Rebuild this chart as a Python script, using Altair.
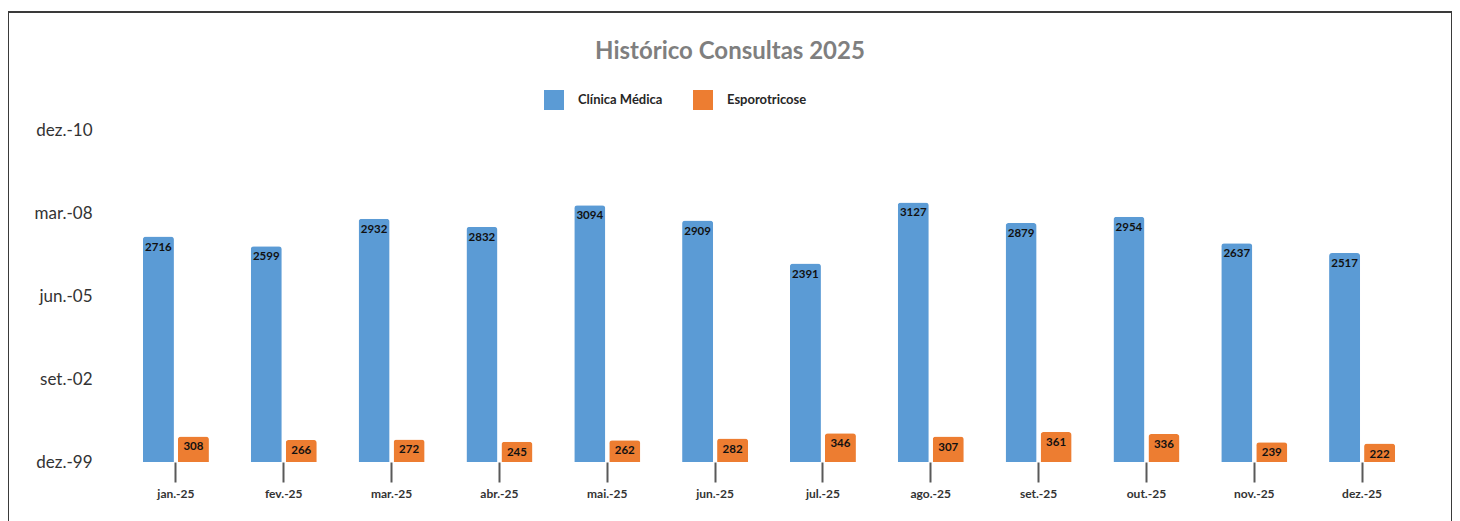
import altair as alt
import pandas as pd

months = ["jan.-25", "fev.-25", "mar.-25", "abr.-25", "mai.-25", "jun.-25",
          "jul.-25", "ago.-25", "set.-25", "out.-25", "nov.-25", "dez.-25"]
clinica = [2716, 2599, 2932, 2832, 3094, 2909, 2391, 3127, 2879, 2954, 2637, 2517]
esporo = [308, 266, 272, 245, 262, 282, 346, 307, 361, 336, 239, 222]
series = ["Clínica Médica", "Esporotricose"]
colors = ["#5B9BD5", "#ED7D31"]
y_ticks = [0, 1000, 2000, 3000, 4000]
y_tick_labels = ["dez.-99", "set.-02", "jun.-05", "mar.-08", "dez.-10"]

rows = []
for m, c, e in zip(months, clinica, esporo):
    rows.append({"mes": m, "serie": series[0], "valor": c})
    rows.append({"mes": m, "serie": series[1], "valor": e})
df = pd.DataFrame(rows)

FONT = "Lato"
W, H = 1294, 332

label_map = "{" + ", ".join(f"'{v}': '{l}'" for v, l in zip(y_ticks, y_tick_labels)) + "}"

x_enc = alt.X("mes:N", sort=months, title=None,
              scale=alt.Scale(paddingInner=0.388, paddingOuter=0.194),
              axis=alt.Axis(domain=False, ticks=True, tickSize=20, tickWidth=2,
                            tickColor="#595959", labelAngle=0, labelPadding=6,
                            labelFont=FONT, labelFontSize=12, labelFontWeight="bold",
                            labelColor="#333333"))
xo_enc = alt.XOffset("serie:N", sort=series,
                     scale=alt.Scale(paddingInner=0.114, paddingOuter=0))
y_enc = alt.Y("valor:Q", title=None,
              scale=alt.Scale(domain=[0, 4000], nice=False),
              axis=alt.Axis(values=y_ticks, grid=False, domain=False, ticks=False,
                            labelExpr=f"{label_map}[datum.value]",
                            labelFont=FONT, labelFontSize=17, labelColor="#333333",
                            labelPadding=30))

base = alt.Chart(df)

bars = base.mark_bar(cornerRadiusTopLeft=3, cornerRadiusTopRight=3).encode(
    x=x_enc, xOffset=xo_enc, y=y_enc,
    color=alt.Color("serie:N", sort=series, title=None,
                    scale=alt.Scale(domain=series, range=colors),
                    legend=alt.Legend(orient="none", legendX=422, legendY=-40,
                                      direction="horizontal", symbolType="square",
                                      symbolSize=400, symbolStrokeWidth=0,
                                      labelFont=FONT, labelFontSize=13,
                                      labelFontWeight="bold", labelColor="#262626",
                                      columnPadding=30, labelOffset=14)),
)

labels = base.mark_text(baseline="top", dy=5, font=FONT, fontSize=11.5,
                        fontWeight="bold", color="#111111").encode(
    x=alt.X("mes:N", sort=months), xOffset=alt.XOffset("serie:N", sort=series),
    y="valor:Q", text="valor:Q",
)

title = alt.Chart(pd.DataFrame({"t": ["Histórico Consultas 2025"]})).mark_text(
    font=FONT, fontSize=24, fontWeight="bold", color="#7F7F7F",
    align="center", baseline="middle").encode(
    x=alt.value(608), y=alt.value(-78), text="t:N")

frame = alt.Chart(pd.DataFrame({"a": [0]})).mark_rect(
    fill=None, stroke="#3A3A3A", strokeWidth=2).encode(
    x=alt.value(-114), x2=alt.value(1330), y=alt.value(-118), y2=alt.value(420))

chart = alt.layer(frame, bars, labels, title).properties(
    width=W, height=H,
    autosize=alt.AutoSizeParams(type="none"),
    padding={"left": 114, "top": 122, "right": 36, "bottom": 70},
).configure(background="white").configure_view(strokeWidth=0, stroke=None)

chart.save("out.html", embed_options={"renderer": "svg", "actions": False})
